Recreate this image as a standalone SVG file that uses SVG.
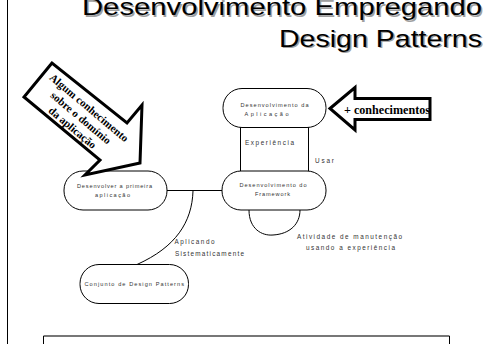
<svg xmlns="http://www.w3.org/2000/svg" width="486" height="344" viewBox="0 0 486 344">
<style>
.title{font-family:"Liberation Sans",Arial,sans-serif;font-size:24px;text-anchor:end}
.sh{fill:#a0a0a0}
.tk{fill:#000}
.node{fill:#fff;stroke:#000;stroke-width:1}
.sm{font-family:"Liberation Sans",Arial,sans-serif;font-size:5.6px;fill:#333}
.lbl{font-family:"Liberation Sans",Arial,sans-serif;font-size:6.4px;fill:#333}
.conn{fill:none;stroke:#000;stroke-width:1}
.big{fill:#fff;stroke:#000;stroke-width:3;stroke-linejoin:miter}
.bt{font-family:"Liberation Serif","Times New Roman",serif;font-weight:bold;fill:#000}
</style>
<rect x="0" y="0" width="486" height="344" fill="#fff"/>
<line x1="7.5" y1="0" x2="7.5" y2="344" stroke="#000" stroke-width="1"/>
<g id="title">
<text class="title sh" x="483.5" y="16.5" textLength="400" lengthAdjust="spacingAndGlyphs">Desenvolvimento Empregando</text>
<text class="title tk" x="482" y="15" textLength="400" lengthAdjust="spacingAndGlyphs">Desenvolvimento Empregando</text>
<text class="title sh" x="483.5" y="48" textLength="203" lengthAdjust="spacingAndGlyphs">Design Patterns</text>
<text class="title tk" x="482" y="46.5" textLength="203" lengthAdjust="spacingAndGlyphs">Design Patterns</text>
</g>
<g id="connectors">
<line class="conn" x1="240.5" y1="127" x2="240.5" y2="171"/>
<line class="conn" x1="308.5" y1="127" x2="308.5" y2="171"/>
<line class="conn" x1="167" y1="190.5" x2="222" y2="190.5"/>
<path class="conn" d="M193,191 C192,222 176,247 137,264.5"/>
<path class="conn" d="M249,210 C249,229 262,236 273,235 C290,234 300,224 300,210"/>
<text class="lbl" x="245" y="145" textLength="49" lengthAdjust="spacing">Experiência</text>
<text class="lbl" x="315" y="163" textLength="19" lengthAdjust="spacing">Usar</text>
<text class="lbl" x="297" y="238.5" textLength="105" lengthAdjust="spacing">Atividade de manutenção</text>
<text class="lbl" x="306" y="250" textLength="89" lengthAdjust="spacing">usando a experiência</text>
<text class="lbl" x="174.5" y="244" textLength="40" lengthAdjust="spacing">Aplicando</text>
<text class="lbl" x="175" y="255.5" textLength="69" lengthAdjust="spacing">Sistematicamente</text>
</g>
<g id="node-aplicacao">
<rect class="node" x="223" y="88.5" width="103" height="39" rx="19" ry="19"/>
<text class="sm" x="240.5" y="106.5" textLength="68" lengthAdjust="spacing">Desenvolvimento da</text>
<text class="sm" x="244.5" y="116" textLength="44" lengthAdjust="spacing">Aplicação</text>
</g>
<g id="node-primeira">
<rect class="node" x="64" y="171" width="103" height="39" rx="19" ry="19"/>
<text class="sm" x="77" y="187.5" textLength="75" lengthAdjust="spacing">Desenvolver a primeira</text>
<text class="sm" x="95" y="196.5" textLength="35" lengthAdjust="spacing">aplicação</text>
</g>
<g id="node-framework">
<rect class="node" x="222" y="171" width="104" height="39" rx="19" ry="19"/>
<text class="sm" x="239.5" y="187" textLength="67" lengthAdjust="spacing">Desenvolvimento do</text>
<text class="sm" x="255" y="196" textLength="35" lengthAdjust="spacing">Framework</text>
</g>
<g id="node-patterns">
<rect class="node" x="80" y="264.5" width="108.5" height="39" rx="19" ry="19"/>
<text class="sm" x="84.5" y="286" textLength="99.5" lengthAdjust="spacing">Conjunto de Design Patterns</text>
</g>
<g id="arrow-dominio">
<polygon class="big" points="52,63 24,97 100,160 85,175 140,163 142,105 127,123"/>
<g transform="translate(81,117.5) rotate(40)">
<text class="bt" font-size="11" text-anchor="middle" x="0" y="-9">Algum conhecimento</text>
<text class="bt" font-size="11" text-anchor="middle" x="0" y="4">sobre o domínio</text>
<text class="bt" font-size="11" text-anchor="middle" x="0" y="17">da aplicação</text>
</g>
</g>
<g id="arrow-conhecimentos">
<polygon class="big" points="330,108.5 355,87.5 355,98.5 430,98.5 430,119.5 355,119.5 355,130"/>
<text class="bt" font-size="12" x="344" y="113.5" textLength="86" lengthAdjust="spacingAndGlyphs">+ conhecimentos</text>
</g>
<g id="bottom-box">
<line x1="43.5" y1="336" x2="449.5" y2="336" stroke="#777" stroke-width="2"/>
<line x1="43.5" y1="336" x2="43.5" y2="344" stroke="#000" stroke-width="1"/>
<line x1="449.5" y1="336" x2="449.5" y2="344" stroke="#000" stroke-width="1"/>
</g>
</svg>
